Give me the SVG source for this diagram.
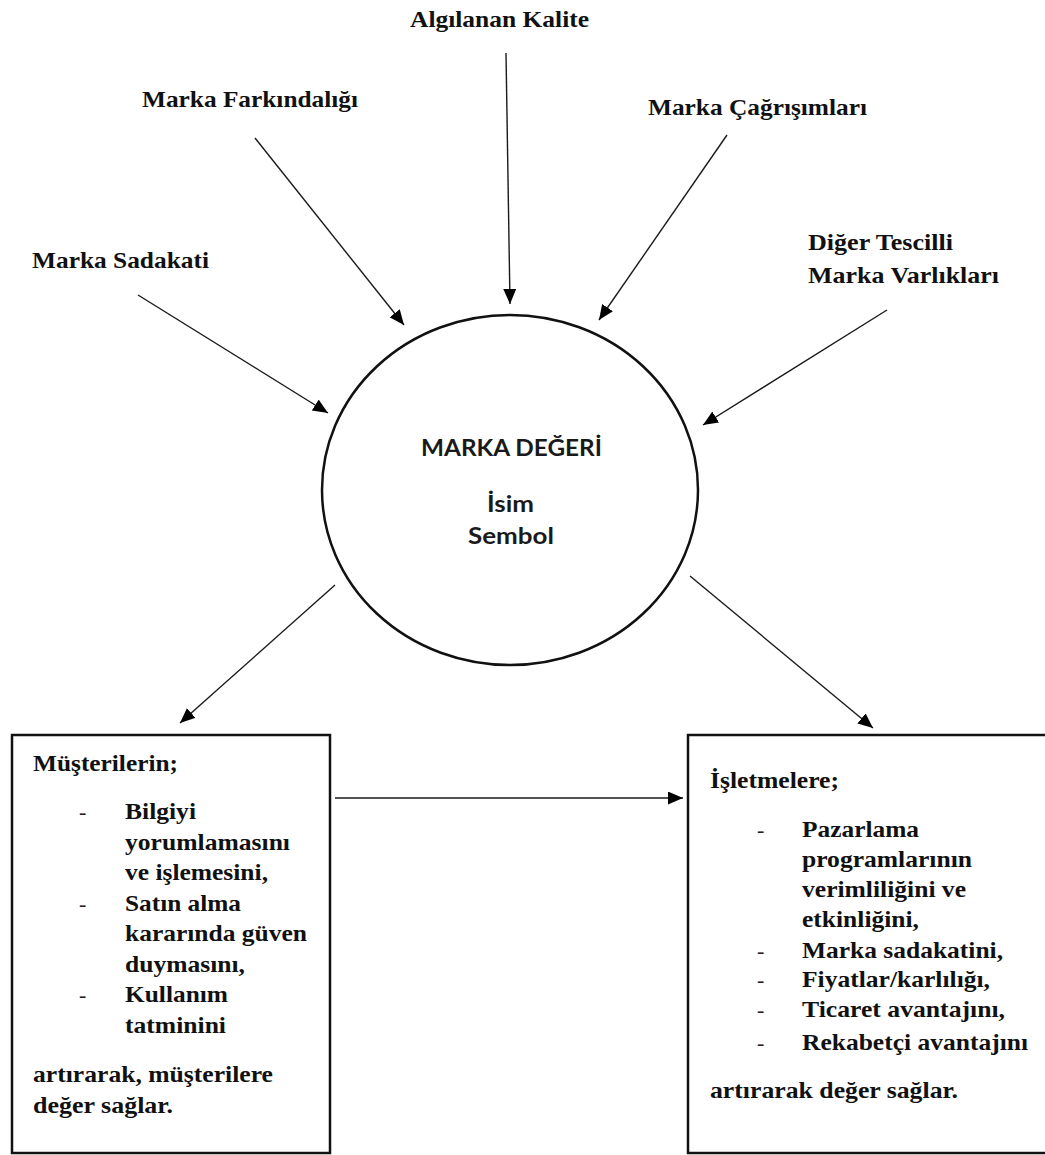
<svg xmlns="http://www.w3.org/2000/svg" width="1045" height="1155" viewBox="0 0 1045 1155">
  <style>
    .lbl { font-family: "Liberation Serif", "Times New Roman", serif; font-weight: bold; font-size: 23.5px; fill: #111; }
    .core { font-family: Lato, "Open Sans", sans-serif; font-weight: bold; font-size: 22px; fill: #1a1a1a; }
    .dash { font-family: "Liberation Serif", serif; font-size: 22px; fill: #222; }
    .conn { stroke: #1a1a1a; stroke-width: 1.4; fill: none; marker-end: url(#head); }
    .box { fill: #fff; stroke: #111; stroke-width: 2.5; }
  </style>
  <defs>
    <marker id="head" markerUnits="userSpaceOnUse" markerWidth="16" markerHeight="14" refX="15" refY="6.5" orient="auto">
      <path d="M0,0 L15,6.5 L0,13 z" fill="#000"/>
    </marker>
  </defs>
  <rect width="1045" height="1155" fill="#fff"/>

  <!-- input labels -->
  <g id="algilanan-kalite"><text class="lbl" x="410" y="27" textLength="179" lengthAdjust="spacingAndGlyphs">Algılanan Kalite</text></g>
  <g id="marka-farkindaligi"><text class="lbl" x="142" y="107" textLength="216" lengthAdjust="spacingAndGlyphs">Marka Farkındalığı</text></g>
  <g id="marka-cagrisimlari"><text class="lbl" x="648" y="115" textLength="219" lengthAdjust="spacingAndGlyphs">Marka Çağrışımları</text></g>
  <g id="marka-sadakati"><text class="lbl" x="32" y="268" textLength="177" lengthAdjust="spacingAndGlyphs">Marka Sadakati</text></g>
  <g id="diger-varliklar">
    <text class="lbl" x="808" y="250" textLength="145" lengthAdjust="spacingAndGlyphs">Diğer Tescilli</text>
    <text class="lbl" x="808" y="283" textLength="191" lengthAdjust="spacingAndGlyphs">Marka Varlıkları</text>
  </g>

  <!-- central brand equity ellipse -->
  <g id="marka-degeri">
    <ellipse cx="510" cy="490" rx="188" ry="175" fill="#fff" stroke="#111" stroke-width="2.5"/>
    <text class="core" x="421" y="456" textLength="181" lengthAdjust="spacingAndGlyphs">MARKA DEĞERİ</text>
    <text class="core" x="487" y="512" textLength="47" lengthAdjust="spacingAndGlyphs">İsim</text>
    <text class="core" x="468" y="544" textLength="86" lengthAdjust="spacingAndGlyphs">Sembol</text>
  </g>

  <!-- customer value box -->
  <g id="musteriler">
    <rect class="box" x="12" y="735" width="318" height="418"/>
    <text class="lbl" x="33" y="771" textLength="145" lengthAdjust="spacingAndGlyphs">Müşterilerin;</text>
    <text class="dash" x="79" y="819">-</text>
    <text class="dash" x="79" y="911">-</text>
    <text class="dash" x="79" y="1002">-</text>
    <text class="lbl" x="125" y="819" textLength="71" lengthAdjust="spacingAndGlyphs">Bilgiyi</text>
    <text class="lbl" x="125" y="850" textLength="165" lengthAdjust="spacingAndGlyphs">yorumlamasını</text>
    <text class="lbl" x="125" y="880" textLength="143" lengthAdjust="spacingAndGlyphs">ve işlemesini,</text>
    <text class="lbl" x="125" y="911" textLength="116" lengthAdjust="spacingAndGlyphs">Satın alma</text>
    <text class="lbl" x="125" y="941" textLength="182" lengthAdjust="spacingAndGlyphs">kararında güven</text>
    <text class="lbl" x="125" y="972" textLength="120" lengthAdjust="spacingAndGlyphs">duymasını,</text>
    <text class="lbl" x="125" y="1002" textLength="103" lengthAdjust="spacingAndGlyphs">Kullanım</text>
    <text class="lbl" x="125" y="1033" textLength="101" lengthAdjust="spacingAndGlyphs">tatminini</text>
    <text class="lbl" x="33" y="1082" textLength="240" lengthAdjust="spacingAndGlyphs">artırarak, müşterilere</text>
    <text class="lbl" x="33" y="1113" textLength="140" lengthAdjust="spacingAndGlyphs">değer sağlar.</text>
  </g>

  <!-- business value box -->
  <g id="isletmeler">
    <rect class="box" x="688" y="735" width="400" height="418"/>
    <text class="lbl" x="710" y="788" textLength="129" lengthAdjust="spacingAndGlyphs">İşletmelere;</text>
    <text class="dash" x="757" y="837">-</text>
    <text class="dash" x="757" y="958">-</text>
    <text class="dash" x="757" y="987">-</text>
    <text class="dash" x="757" y="1017">-</text>
    <text class="dash" x="757" y="1050">-</text>
    <text class="lbl" x="802" y="837" textLength="117" lengthAdjust="spacingAndGlyphs">Pazarlama</text>
    <text class="lbl" x="802" y="867" textLength="170" lengthAdjust="spacingAndGlyphs">programlarının</text>
    <text class="lbl" x="802" y="897" textLength="164" lengthAdjust="spacingAndGlyphs">verimliliğini ve</text>
    <text class="lbl" x="802" y="927" textLength="117" lengthAdjust="spacingAndGlyphs">etkinliğini,</text>
    <text class="lbl" x="802" y="958" textLength="201" lengthAdjust="spacingAndGlyphs">Marka sadakatini,</text>
    <text class="lbl" x="802" y="987" textLength="188" lengthAdjust="spacingAndGlyphs">Fiyatlar/karlılığı,</text>
    <text class="lbl" x="802" y="1017" textLength="203" lengthAdjust="spacingAndGlyphs">Ticaret avantajını,</text>
    <text class="lbl" x="802" y="1050" textLength="226" lengthAdjust="spacingAndGlyphs">Rekabetçi avantajını</text>
    <text class="lbl" x="710" y="1098" textLength="248" lengthAdjust="spacingAndGlyphs">artırarak değer sağlar.</text>
  </g>

  <!-- connectors -->
  <g id="connectors">
    <line class="conn" x1="506" y1="53" x2="510" y2="304"/>
    <line class="conn" x1="255" y1="138" x2="404" y2="325"/>
    <line class="conn" x1="727" y1="135" x2="599" y2="320"/>
    <line class="conn" x1="138" y1="295" x2="328" y2="413"/>
    <line class="conn" x1="887" y1="310" x2="703" y2="425"/>
    <line class="conn" x1="335" y1="585" x2="180" y2="723"/>
    <line class="conn" x1="690" y1="576" x2="873" y2="728"/>
    <line class="conn" x1="335" y1="798" x2="683" y2="798"/>
  </g>
</svg>
